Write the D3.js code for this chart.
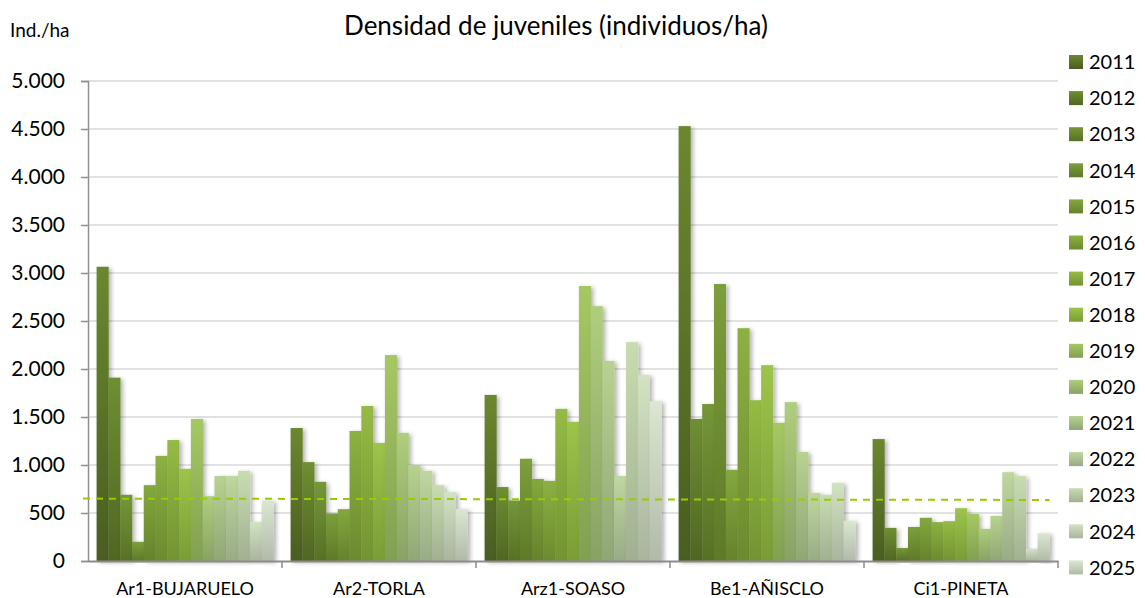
<!DOCTYPE html>
<html>
<head>
<meta charset="utf-8">
<script src="https://cdn.jsdelivr.net/npm/d3@7"></script>
<style>
  html, body { margin: 0; padding: 0; background: #ffffff; }
  svg { display: block; font-family: "Lato", "Liberation Sans", sans-serif; }
</style>
</head>
<body>
<svg id="chart" width="1145" height="598"></svg>
<script>
// ---- data ----
const categories = ["Ar1-BUJARUELO", "Ar2-TORLA", "Arz1-SOASO", "Be1-AÑISCLO", "Ci1-PINETA"];
const years = ["2011","2012","2013","2014","2015","2016","2017","2018","2019","2020","2021","2022","2023","2024","2025"];
// values per year, one entry per category (same order as categories)
const s2011 = [3065, 1385, 1730, 4530, 1270];
const s2012 = [1910, 1030, 770, 1480, 345];
const s2013 = [690, 825, 630, 1635, 135];
const s2014 = [200, 495, 1065, 2885, 355];
const s2015 = [790, 540, 855, 950, 450];
const s2016 = [1095, 1355, 835, 2425, 405];
const s2017 = [1260, 1615, 1585, 1675, 415];
const s2018 = [960, 1230, 1450, 2040, 550];
const s2019 = [1480, 2145, 2865, 1440, 490];
const s2020 = [675, 1335, 2655, 1655, 335];
const s2021 = [885, 1000, 2085, 1135, 470];
const s2022 = [885, 940, 885, 710, 925];
const s2023 = [940, 790, 2280, 690, 885];
const s2024 = [405, 720, 1940, 815, 125];
const s2025 = [630, 540, 1665, 420, 290];
const seriesValues = [s2011, s2012, s2013, s2014, s2015, s2016, s2017, s2018, s2019, s2020, s2021, s2022, s2023, s2024, s2025];
const refLine = [650, 636]; // dashed reference line, value at left end and right end
const yTicks = [0, 500, 1000, 1500, 2000, 2500, 3000, 3500, 4000, 4500, 5000];
const yTickLabels = ["0", "500", "1.000", "1.500", "2.000", "2.500", "3.000", "3.500", "4.000", "4.500", "5.000"];
const title = "Densidad de juveniles (individuos/ha)";
const yUnit = "Ind./ha";

// ---- styles ----
const topColors = ["#6a882f","#6e8f31","#759738","#7c9f3b","#84a83e","#8cb142","#95bb45","#9dc44b","#a6c863","#afce7c","#b7d290","#bfd79f","#c8dcb0","#d2e2c2","#dbe7d1"];
const bottomColors = ["#4a5d20","#506623","#577026","#5f7929","#66822c","#6c8a2f","#739332","#7a9c36","#82a052","#89a265","#91a676","#99ab86","#a1b092","#a9b59e","#b1baa9"];

const svg = d3.select("#chart");
const margin = { left: 88, right: 1058, top: 81, bottom: 561 };

const defs = svg.append("defs");
years.forEach((y, i) => {
  const g = defs.append("linearGradient").attr("id", "g" + i)
    .attr("x1", 0).attr("y1", 0).attr("x2", 0).attr("y2", 1);
  g.append("stop").attr("offset", "0%").attr("stop-color", topColors[i]);
  g.append("stop").attr("offset", "100%").attr("stop-color", bottomColors[i]);
});
const f = defs.append("filter").attr("id", "shadow")
  .attr("x", "-50%").attr("y", "-10%").attr("width", "200%").attr("height", "120%");
f.append("feDropShadow").attr("dx", 2.5).attr("dy", 1.5).attr("stdDeviation", 2)
  .attr("flood-color", "#000").attr("flood-opacity", 0.3);

const y = d3.scaleLinear().domain([0, 5000]).range([margin.bottom, margin.top]);
const x0 = d3.scaleBand().domain(categories).range([margin.left, margin.right]).paddingInner(0).paddingOuter(0);
const x1 = d3.scaleBand().domain(years).range([0, x0.bandwidth()]).paddingInner(0).paddingOuter(0.73);

// gridlines
svg.append("g").selectAll("line").data(yTicks.slice(1)).join("line")
  .attr("x1", margin.left).attr("x2", margin.right)
  .attr("y1", d => y(d)).attr("y2", d => y(d))
  .attr("stroke", "#d9d9d9").attr("stroke-width", 1.5);

// y axis
const yAxis = d3.axisLeft(y).tickValues(yTicks).tickSize(7).tickPadding(16)
  .tickFormat((d, i) => yTickLabels[i]);
const yg = svg.append("g").attr("transform", `translate(${margin.left},0)`).call(yAxis);
yg.select(".domain").attr("stroke", "#8f8f8f").attr("stroke-width", 1.5);
yg.selectAll(".tick line").attr("stroke", "#8f8f8f").attr("stroke-width", 1.5);
yg.selectAll(".tick text").attr("font-size", 21).attr("fill", "#000").attr("font-family", "Lato");

// bars
const groups = svg.append("g").selectAll("g").data(categories).join("g")
  .attr("transform", d => `translate(${x0(d)},0)`);
groups.selectAll("rect").data((c, ci) => years.map((yr, yi) => ({ yr, yi, v: seriesValues[yi][ci] })))
  .join("rect")
  .attr("x", d => x1(d.yr))
  .attr("width", x1.bandwidth() + 0.3)
  .attr("y", d => y(d.v))
  .attr("height", d => y(0) - y(d.v))
  .attr("fill", d => `url(#g${d.yi})`)
  .attr("filter", "url(#shadow)");

// x axis
const xAxis = d3.axisBottom(x0).tickSize(0).tickPadding(21);
const xg = svg.append("g").attr("transform", `translate(0,${margin.bottom})`).call(xAxis);
xg.select(".domain").attr("stroke", "#8c8c8c").attr("stroke-width", 2);
xg.selectAll(".tick text").attr("font-size", 18).attr("fill", "#000").attr("font-family", "Lato");
xg.append("g").selectAll("line").data(categories.slice(1).concat(["__end"])).join("line")
  .attr("x1", d => d === "__end" ? margin.right : x0(d))
  .attr("x2", d => d === "__end" ? margin.right : x0(d))
  .attr("y1", 0).attr("y2", 7)
  .attr("stroke", "#8c8c8c").attr("stroke-width", 1.5);

// dashed reference line
const lineX = d3.scaleLinear().domain([0, refLine.length - 1])
  .range([margin.left - 5, x0(categories[categories.length - 1]) + x1(years[years.length - 1]) + x1.bandwidth()]);
svg.append("path")
  .datum(refLine)
  .attr("d", d3.line().x((d, i) => lineX(i)).y(d => y(d)))
  .attr("fill", "none").attr("stroke", "#99cc00").attr("stroke-width", 2)
  .attr("stroke-dasharray", "7,6");

// title
svg.append("text").attr("x", 556).attr("y", 35).attr("text-anchor", "middle")
  .attr("font-size", 26).attr("fill", "#000").text(title);
svg.append("text").attr("x", 10).attr("y", 37)
  .attr("font-size", 19).attr("fill", "#000").text(yUnit);

// legend
const leg = svg.append("g").selectAll("g").data(years).join("g")
  .attr("transform", (d, i) => `translate(1069,${62 + i * 36.1})`);
leg.append("rect").attr("x", 0).attr("y", -7).attr("width", 14).attr("height", 14)
  .attr("fill", (d, i) => `url(#g${i})`);
leg.append("text").attr("x", 20).attr("y", 0).attr("dy", "0.36em")
  .attr("font-size", 20).attr("fill", "#000").text(d => d);
</script>
</body>
</html>
